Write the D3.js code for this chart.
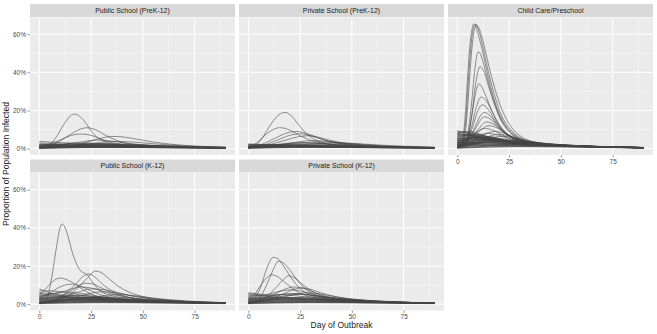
<!DOCTYPE html>
<html><head><meta charset="utf-8">
<script src="https://cdn.jsdelivr.net/npm/d3@7"></script>
<style>body{margin:0;background:#fff}svg{display:block}</style></head>
<body><svg id="c" width="657" height="334"></svg>
<script>
const facets = ["Public School (PreK-12)","Private School (PreK-12)","Child Care/Preschool","Public School (K-12)","Private School (K-12)"];
const xTicks = [0,25,50,75];
const xMinor = [12.5,37.5,62.5,87.5];
const yTicks = [0,20,40,60];
const yMinor = [10,30,50];

// each curve: [day, percent infected]
const publicPreK = [
 [[0,0.3],[3,0.8],[6,3],[9,7.5],[12,13],[15,17.2],[17,18.1],[20,16.5],[23,12.5],[26,8],[30,4.5],[35,2.5],[40,1.6],[45,1.2],[50,1],[60,0.7],[75,0.5],[90,0.3]],
 [[0,0.5],[5,1.5],[10,4],[15,7.5],[20,10.3],[23,11],[27,10],[32,7],[37,4.5],[42,2.8],[50,1.6],[60,1],[75,0.6],[90,0.4]],
 [[0,1],[5,2.5],[10,4.5],[15,6.8],[20,7.7],[25,7],[30,5],[35,3.2],[40,2.2],[50,1.3],[60,0.9],[75,0.6],[90,0.4]],
 [[0,0.5],[10,1],[20,2.5],[28,5],[35,6.4],[40,6.2],[48,4.8],[55,3.5],[65,2.2],[75,1.4],[90,0.8]],
 [[0,3.8],[10,3.2],[20,2.8],[30,2.4],[40,2],[50,1.7],[60,1.4],[75,1],[90,0.7]],
 [[0,0.8],[10,2],[20,3.5],[27,4.5],[33,4.2],[40,3.2],[50,2],[60,1.3],[75,0.8],[90,0.5]],
 [[0,0.3],[15,1],[25,2.5],[35,3.8],[45,3.5],[55,2.6],[65,1.8],[80,1],[90,0.7]],
 [[0,2],[15,2.3],[30,2],[45,1.6],[60,1.2],[75,0.9],[90,0.6]],
 [[0,1.5],[10,1.8],[25,1.9],[40,1.6],[55,1.2],[70,0.9],[90,0.5]],
 [[0,1.2],[10,1.5],[20,1.5],[35,1.3],[50,1.1],[70,0.8],[90,0.5]],
 [[0,0.8],[15,1.3],[30,1.4],[45,1.2],[60,1],[75,0.7],[90,0.4]],
 [[0,1],[10,1.1],[25,1.1],[40,1],[60,0.8],[75,0.6],[90,0.4]],
 [[0,0.5],[10,0.8],[25,1],[40,0.9],[60,0.7],[90,0.4]],
 [[0,2.5],[10,2],[20,1.5],[35,1.1],[50,0.8],[70,0.6],[90,0.4]],
 [[0,0.6],[20,1.8],[35,2.2],[50,1.8],[65,1.3],[80,0.9],[90,0.7]],
 [[0,0.4],[20,0.7],[40,0.8],[60,0.6],[90,0.3]],
 [[0,0.2],[15,0.5],[30,0.7],[50,0.6],[70,0.4],[90,0.3]],
 [[0,0.3],[10,0.5],[25,0.6],[45,0.6],[65,0.5],[90,0.3]],
 [[0,0.6],[10,0.7],[25,0.8],[45,0.7],[65,0.5],[90,0.3]],
 [[0,0.9],[10,1],[25,1.2],[40,1.1],[60,0.8],[80,0.5],[90,0.4]],
 [[0,1.3],[10,1.4],[25,1.3],[40,1.2],[60,0.9],[80,0.6],[90,0.5]],
 [[0,1.7],[12,1.7],[25,1.6],[40,1.4],[55,1.1],[75,0.7],[90,0.5]],
 [[0,2.2],[12,2],[25,1.8],[40,1.4],[55,1],[75,0.6],[90,0.4]],
 [[0,1.8],[10,2.2],[20,2.5],[30,2.5],[45,2],[60,1.4],[75,0.9],[90,0.6]],
 [[0,0.4],[10,1.2],[20,2],[30,2.6],[40,2.5],[55,1.8],[70,1.2],[90,0.6]],
 [[0,3],[10,2.6],[20,2.2],[32,1.8],[45,1.4],[60,1],[75,0.7],[90,0.5]],
 [[0,0.5],[8,1.5],[16,2.8],[24,3],[32,2.5],[42,1.8],[55,1.2],[72,0.8],[90,0.5]]
];
const privatePreK = [
 [[0,0.5],[3,1.5],[6,4.5],[9,9.5],[12,14.5],[15,18],[18,19],[21,17],[24,13],[27,9],[31,5.5],[36,3.2],[42,2],[50,1.3],[60,0.9],[75,0.6],[90,0.4]],
 [[0,0.8],[4,3],[8,7],[12,10],[15,11],[19,10.2],[23,8],[27,5.8],[32,3.8],[38,2.4],[45,1.6],[55,1.1],[70,0.7],[90,0.4]],
 [[0,0.4],[6,2],[12,5],[18,8],[23,9],[28,8],[33,6],[38,4],[45,2.5],[55,1.5],[70,0.9],[90,0.5]],
 [[0,0.3],[8,2],[14,4.5],[20,7],[25,7.8],[30,6.8],[36,4.8],[42,3.2],[50,2],[60,1.3],[75,0.8],[90,0.5]],
 [[0,0.5],[10,2],[18,4.5],[24,6.2],[29,6.8],[34,6],[40,4.3],[47,2.8],[55,1.8],[65,1.2],[80,0.7],[90,0.5]],
 [[0,0.5],[12,1.5],[22,3.2],[30,4.2],[37,4],[45,3],[55,2],[65,1.3],[80,0.8],[90,0.6]],
 [[0,1],[15,2],[28,3.3],[38,3.5],[48,2.8],[60,1.8],[75,1.1],[90,0.7]],
 [[0,0.5],[20,1.5],[35,2.8],[45,3],[55,2.5],[65,1.8],[80,1.1],[90,0.8]],
 [[0,2],[10,2],[25,1.8],[40,1.5],[55,1.1],[70,0.8],[90,0.5]],
 [[0,1.5],[15,1.7],[30,1.7],[45,1.4],[60,1.1],[75,0.8],[90,0.5]],
 [[0,1],[10,1.3],[25,1.4],[40,1.3],[55,1],[70,0.7],[90,0.4]],
 [[0,0.7],[15,1],[30,1.2],[45,1.1],[60,0.9],[75,0.6],[90,0.4]],
 [[0,1.2],[10,1],[25,0.9],[40,0.8],[60,0.6],[90,0.3]],
 [[0,0.4],[20,0.8],[35,1],[50,0.9],[70,0.6],[90,0.4]],
 [[0,2.5],[8,2.2],[20,1.6],[35,1.1],[50,0.8],[70,0.5],[90,0.3]],
 [[0,0.2],[15,0.5],[30,0.7],[50,0.6],[70,0.4],[90,0.3]],
 [[0,0.3],[10,0.6],[25,0.8],[45,0.7],[65,0.5],[90,0.3]],
 [[0,0.6],[10,0.8],[25,0.9],[45,0.8],[65,0.6],[90,0.4]],
 [[0,0.9],[10,1.1],[25,1.2],[40,1.1],[60,0.8],[80,0.5],[90,0.4]],
 [[0,1.3],[10,1.5],[25,1.5],[40,1.3],[60,1],[80,0.6],[90,0.5]],
 [[0,1.8],[12,1.8],[25,1.7],[40,1.4],[55,1.1],[75,0.7],[90,0.5]],
 [[0,2.2],[12,2.1],[25,1.9],[40,1.5],[55,1.1],[75,0.7],[90,0.4]],
 [[0,0.4],[10,1.3],[20,2.2],[30,2.6],[40,2.4],[55,1.7],[70,1.1],[90,0.6]],
 [[0,1.5],[10,2],[20,2.4],[30,2.3],[45,1.8],[60,1.3],[75,0.9],[90,0.6]],
 [[0,0.5],[10,1.5],[18,2.8],[26,3.2],[34,2.8],[44,2],[56,1.3],[72,0.8],[90,0.5]]
];
const childCare = [
 [[0,0.5],[2,2],[3,8],[4,20],[5,38],[6,53],[7,62],[8,65.4],[9,64],[10,60],[12,52],[14,42],[16,33],[18,25],[20,19],[22,14.5],[25,10],[30,5.5],[35,3.5],[40,2.6],[50,1.7],[60,1.2],[70,0.9],[80,0.6],[90,0.4]],
 [[0,0.5],[2,1.5],[3,5],[4,14],[5,30],[6,46],[7,58],[8,64],[9,65.2],[10,63],[12,55],[14,45],[16,36],[18,28],[20,21],[22,16],[25,11],[30,6],[35,3.8],[40,2.7],[50,1.7],[60,1.2],[70,0.9],[80,0.6],[90,0.4]],
 [[0,0.5],[2,1.2],[4,10],[5,22],[6,38],[7,52],[8,61],[9,64.6],[10,64],[12,58],[14,49],[16,40],[18,32],[20,25],[23,17],[26,11.5],[30,7],[35,4.2],[40,3],[50,1.8],[60,1.2],[70,0.9],[80,0.6],[90,0.4]],
 [[0,0.5],[3,2],[5,8],[7,25],[8,37],[9,46],[10,50.6],[11,50],[12,47],[14,39],[16,31],[18,24],[20,18],[23,12],[26,8],[30,5],[35,3.2],[40,2.4],[50,1.6],[60,1.1],[75,0.7],[90,0.4]],
 [[0,0.5],[3,1.5],[5,5],[7,18],[9,35],[11,43],[13,40],[15,33],[18,23],[21,15],[25,9],[30,5],[35,3.2],[40,2.4],[50,1.5],[60,1],[75,0.7],[90,0.4]],
 [[0,0.8],[3,2],[5,6],[7,17],[9,30],[10.5,34],[12,32],[14,27],[17,19],[20,12.5],[24,7.5],[28,5],[35,3],[45,2],[60,1.2],[75,0.8],[90,0.5]],
 [[0,1],[4,3],[7,12],[9,21],[11.5,27],[14,25],[17,19],[20,13],[24,8],[28,5.2],[35,3.2],[45,2],[60,1.2],[75,0.8],[90,0.5]],
 [[0,1.5],[4,3],[7,10],[10,20],[12,23],[15,20.5],[18,15],[22,9.5],[26,6],[32,3.8],[40,2.6],[50,1.8],[65,1.1],[90,0.5]],
 [[0,1],[4,3],[8,10],[11,17],[13,19],[16,17],[19,13],[23,8.5],[28,5],[35,3.2],[45,2.2],[60,1.3],[90,0.6]],
 [[0,2],[5,4],[9,11],[13,16.7],[16,15.5],[20,11],[25,6.5],[30,4.2],[40,2.5],[55,1.5],[70,1],[90,0.6]],
 [[0,1.5],[5,3.5],[10,10],[14,14],[18,12.5],[22,9],[27,5.5],[33,3.5],[45,2.2],[60,1.3],[90,0.6]],
 [[0,3],[6,5],[11,9.5],[15,12],[19,11],[24,7.5],[30,4.5],[38,3],[50,2],[65,1.2],[90,0.6]],
 [[0,2.5],[5,4.5],[9,8.5],[13,10.6],[17,9.8],[22,7],[28,4.3],[35,3],[50,1.8],[70,1],[90,0.5]],
 [[0,1],[6,3],[12,7],[18,9],[23,8],[28,5.5],[35,3.5],[45,2.3],[60,1.4],[90,0.6]],
 [[0,4],[5,5],[10,7],[15,8],[20,7],[26,5],[33,3.2],[45,2],[60,1.3],[90,0.6]],
 [[0,2],[8,3.5],[14,6],[20,7.5],[26,6.5],[32,4.5],[40,3],[55,1.8],[70,1.1],[90,0.6]],
 [[0,1.5],[10,3.5],[16,5.5],[22,6.5],[28,5.5],[35,3.8],[45,2.5],[60,1.5],[90,0.7]],
 [[0,9.5],[5,8],[10,6.5],[15,5],[20,4],[30,2.8],[40,2],[55,1.4],[70,1],[90,0.6]],
 [[0,8.5],[5,8.5],[10,7.5],[15,6],[20,4.5],[30,3],[40,2.2],[55,1.5],[70,1],[90,0.6]],
 [[0,7.5],[5,7],[10,6],[15,5],[20,4],[30,2.8],[45,1.8],[60,1.2],[90,0.6]],
 [[0,6.5],[6,6.8],[12,6],[18,4.8],[25,3.5],[35,2.5],[50,1.6],[70,1],[90,0.6]],
 [[0,5.5],[5,5.5],[10,5],[18,4],[25,3.2],[35,2.4],[50,1.6],[70,1],[90,0.5]],
 [[0,5],[8,5.2],[15,4.6],[22,3.8],[30,3],[40,2.2],[55,1.5],[75,0.9],[90,0.6]],
 [[0,4.5],[6,4.2],[12,3.8],[20,3.2],[30,2.5],[45,1.8],[60,1.2],[75,0.8],[90,0.5]],
 [[0,4],[10,4.5],[20,3.8],[30,2.8],[40,2.1],[55,1.4],[75,0.8],[90,0.5]],
 [[0,3.5],[8,3.3],[16,3],[25,2.6],[35,2.1],[50,1.5],[70,0.9],[90,0.5]],
 [[0,3],[10,3.2],[20,3],[30,2.5],[45,1.8],[60,1.2],[80,0.7],[90,0.5]],
 [[0,2.5],[10,2.6],[20,2.4],[30,2.1],[45,1.6],[60,1.1],[80,0.7],[90,0.5]],
 [[0,2],[10,2.2],[20,2.1],[35,1.7],[50,1.3],[70,0.9],[90,0.5]],
 [[0,1.5],[10,1.8],[25,1.8],[40,1.5],[55,1.1],[70,0.8],[90,0.5]],
 [[0,1],[10,1.4],[25,1.5],[40,1.3],[60,0.9],[90,0.4]],
 [[0,0.6],[15,1],[30,1.1],[50,0.9],[70,0.6],[90,0.4]],
 [[0,6],[4,7],[8,7.5],[12,7],[17,5.8],[23,4.2],[30,3],[40,2.2],[55,1.5],[75,0.9],[90,0.6]],
 [[0,8],[3,8.8],[6,9],[10,8],[14,6.5],[19,5],[26,3.5],[35,2.5],[50,1.6],[70,1],[90,0.6]],
 [[0,3],[4,4.5],[8,6],[12,6.5],[17,6],[23,4.5],[30,3.2],[40,2.3],[55,1.5],[75,0.9],[90,0.5]],
 [[0,4.5],[5,5.5],[10,6],[16,5.5],[22,4.3],[30,3],[42,2],[60,1.2],[90,0.6]],
 [[0,9],[4,8.5],[8,7.5],[14,5.8],[20,4.3],[28,3],[38,2.2],[52,1.5],[70,0.9],[90,0.5]],
 [[0,8],[5,7.2],[10,6.3],[16,5],[22,4],[30,3],[42,2],[58,1.3],[75,0.8],[90,0.5]],
 [[0,7],[5,7.5],[10,7],[15,6],[21,4.6],[28,3.4],[38,2.4],[52,1.6],[70,1],[90,0.5]],
 [[0,6],[5,6],[10,5.5],[16,4.6],[23,3.6],[32,2.7],[45,1.9],[62,1.2],[80,0.7],[90,0.5]],
 [[0,5],[5,5.8],[10,6],[15,5.3],[21,4.3],[29,3.2],[40,2.3],[55,1.5],[75,0.9],[90,0.5]],
 [[0,4],[5,4.8],[11,5.2],[17,4.8],[24,3.9],[32,3],[44,2.1],[60,1.3],[80,0.7],[90,0.5]],
 [[0,3.5],[6,4],[12,4.3],[19,4],[26,3.4],[35,2.6],[48,1.8],[65,1.1],[90,0.5]],
 [[0,3],[6,3.8],[12,4.5],[18,4.6],[25,4],[33,3],[45,2],[60,1.3],[80,0.7],[90,0.5]],
 [[0,2.5],[7,3.2],[14,3.8],[21,3.8],[28,3.3],[38,2.5],[50,1.7],[65,1.1],[90,0.5]],
 [[0,2],[8,2.8],[15,3.4],[22,3.5],[30,3],[40,2.3],[55,1.5],[72,0.9],[90,0.5]],
 [[0,1.5],[8,2.5],[16,3.5],[24,3.8],[32,3.3],[42,2.5],[55,1.7],[70,1.1],[90,0.6]],
 [[0,1],[10,2.5],[18,4],[25,4.3],[32,3.8],[42,2.8],[55,1.8],[72,1.1],[90,0.6]],
 [[0,0.8],[6,2],[12,3.5],[18,4.5],[24,4.4],[32,3.5],[42,2.5],[55,1.6],[72,1],[90,0.5]],
 [[0,0.5],[5,1.5],[10,3.5],[15,5],[20,5.3],[26,4.6],[34,3.4],[45,2.2],[60,1.4],[80,0.8],[90,0.5]],
 [[0,0.5],[4,2],[8,4.5],[12,6],[16,6.2],[21,5.2],[28,3.7],[38,2.4],[50,1.6],[70,0.9],[90,0.5]],
 [[0,0.3],[10,1],[20,2],[30,2.4],[40,2.2],[55,1.6],[70,1.1],[90,0.6]],
 [[0,0.3],[15,0.8],[30,1.2],[45,1.2],[60,1],[75,0.7],[90,0.5]],
 [[0,1.2],[10,1.6],[20,1.8],[30,1.8],[45,1.5],[60,1.1],[75,0.8],[90,0.5]],
 [[0,2.2],[10,2.4],[20,2.5],[30,2.3],[42,1.9],[55,1.4],[72,0.9],[90,0.5]],
 [[0,3.2],[8,3.2],[16,3.1],[25,2.8],[35,2.3],[48,1.7],[62,1.2],[78,0.8],[90,0.6]],
 [[0,4.2],[6,4.8],[12,5],[19,4.4],[26,3.6],[36,2.7],[50,1.8],[68,1.1],[90,0.6]],
 [[0,5.2],[4,5.4],[9,5.2],[15,4.5],[22,3.5],[30,2.7],[42,2],[58,1.3],[75,0.8],[90,0.5]],
 [[0,6.8],[4,6.6],[9,6],[15,5],[21,4],[30,2.9],[42,2.1],[58,1.3],[78,0.8],[90,0.5]],
 [[0,7.8],[4,7.4],[8,6.6],[14,5.4],[20,4.2],[28,3.1],[38,2.3],[52,1.5],[70,0.9],[90,0.5]]
];
const publicK12 = [
 [[0,0.5],[2,1],[4,4],[6,14],[8,28],[10,40],[11,42],[12,41],[14,35],[16,27],[18,21],[20,17.5],[23,15.5],[26,11],[30,6.5],[35,4.5],[40,3.2],[50,2],[60,1.3],[75,0.8],[90,0.5]],
 [[0,1],[8,2],[14,4.5],[19,9],[23,13.5],[27,17.3],[30,16.5],[34,13],[38,9.5],[43,6.5],[50,4],[60,2.3],[75,1.2],[90,0.7]],
 [[0,0.8],[8,2.5],[13,6],[18,11],[21,14.5],[24,15.8],[27,14],[31,10],[36,6.5],[42,4],[50,2.5],[60,1.5],[75,0.9],[90,0.5]],
 [[0,5],[3,8],[6,11.5],[10,13.7],[14,12.5],[18,10],[22,7],[27,4.5],[33,3],[42,2],[55,1.3],[75,0.8],[90,0.5]],
 [[0,3],[4,5],[9,8.5],[13,10.2],[16,10.5],[20,9.5],[25,7],[30,4.8],[37,3],[45,2],[60,1.2],[90,0.5]],
 [[0,8],[5,6],[10,4.5],[15,3.5],[20,3],[30,2.3],[45,1.6],[60,1.1],[75,0.7],[90,0.5]],
 [[0,0.5],[8,2.5],[14,6],[18,9],[22,11],[26,10.5],[30,8.5],[35,6],[42,3.8],[50,2.5],[65,1.3],[90,0.6]],
 [[0,6],[4,5],[8,5.5],[14,7.5],[20,9],[25,8.5],[30,7],[36,5],[43,3.5],[52,2.3],[65,1.4],[90,0.6]],
 [[0,1],[10,3],[18,6],[25,8],[32,7.5],[38,6],[45,4.3],[55,2.8],[65,1.8],[80,1],[90,0.7]],
 [[0,7],[5,7],[10,6.5],[16,5.5],[22,4.5],[30,3.5],[40,2.5],[55,1.6],[70,1],[90,0.6]],
 [[0,4],[6,5.5],[12,6.5],[18,6],[24,5],[32,3.5],[42,2.4],[55,1.6],[70,1],[90,0.6]],
 [[0,0.5],[12,2],[22,5],[30,6.5],[37,6],[44,4.5],[52,3],[62,2],[75,1.2],[90,0.7]],
 [[0,1],[15,2],[28,4],[38,5],[46,4.5],[55,3.2],[65,2.2],[78,1.3],[90,0.8]],
 [[0,4],[10,3.5],[20,3],[30,2.6],[45,2],[60,1.4],[75,0.9],[90,0.6]],
 [[0,3],[10,3],[20,2.8],[35,2.3],[50,1.7],[65,1.2],[80,0.8],[90,0.6]],
 [[0,2.5],[10,2.5],[25,2.3],[40,1.9],[55,1.4],[70,1],[90,0.6]],
 [[0,2],[15,2.1],[30,2],[45,1.6],[60,1.2],[75,0.8],[90,0.5]],
 [[0,1.5],[15,1.8],[30,1.8],[45,1.5],[60,1.1],[75,0.8],[90,0.5]],
 [[0,1],[15,1.3],[30,1.5],[45,1.3],[60,1],[75,0.7],[90,0.4]],
 [[0,3.5],[8,3.8],[16,3.6],[25,3.2],[35,2.6],[48,1.9],[62,1.3],[78,0.8],[90,0.6]],
 [[0,0.6],[15,1],[30,1.2],[50,1],[70,0.7],[90,0.4]],
 [[0,5],[8,4.5],[15,4],[22,3.5],[32,2.8],[45,2],[60,1.3],[75,0.9],[90,0.6]],
 [[0,0.3],[15,0.6],[30,0.8],[50,0.7],[70,0.5],[90,0.3]],
 [[0,0.5],[10,0.8],[25,1],[45,0.9],[65,0.6],[90,0.4]],
 [[0,0.8],[10,1],[25,1.2],[45,1.1],[65,0.8],[90,0.5]],
 [[0,1.2],[10,1.5],[25,1.6],[40,1.4],[60,1],[80,0.6],[90,0.5]],
 [[0,1.8],[12,1.9],[25,1.9],[40,1.7],[55,1.3],[75,0.8],[90,0.6]],
 [[0,2.2],[12,2.4],[25,2.4],[40,2],[55,1.5],[75,0.9],[90,0.6]],
 [[0,2.8],[12,2.7],[25,2.5],[40,2.1],[55,1.6],[75,1],[90,0.7]],
 [[0,3.2],[10,3.4],[20,3.3],[32,2.8],[45,2.2],[60,1.5],[78,0.9],[90,0.7]],
 [[0,4.5],[8,4.2],[16,3.8],[26,3.2],[38,2.5],[52,1.8],[68,1.2],[90,0.6]],
 [[0,1],[10,2.2],[20,3.2],[30,3.5],[42,2.8],[55,2],[70,1.3],[90,0.7]],
 [[0,0.5],[12,1.8],[24,3.4],[34,3.8],[45,3.1],[58,2.1],[72,1.4],[90,0.8]],
 [[0,6],[6,5.5],[12,5],[20,4.2],[30,3.2],[42,2.3],[56,1.6],[72,1],[90,0.6]],
 [[0,2.5],[6,3.5],[12,4.5],[20,4.6],[28,3.8],[38,2.8],[50,2],[65,1.3],[90,0.6]]
];
const privateK12 = [
 [[0,1],[3,3],[6,9],[9,19],[12,24.5],[14,24],[17,20],[20,15],[23,10.5],[27,6.5],[32,4],[38,2.7],[45,1.9],[55,1.3],[70,0.8],[90,0.4]],
 [[0,0.5],[4,2],[7,6],[10,13],[12,18],[14.5,22.5],[17,21.5],[20,18],[23,13.5],[27,8.5],[31,5.5],[37,3.3],[45,2.1],[55,1.4],[70,0.8],[90,0.4]],
 [[0,2],[3,5],[6,10],[9,14],[11,15.4],[14,14.5],[17,12],[21,8.5],[25,5.8],[30,3.8],[37,2.5],[47,1.7],[60,1.1],[75,0.7],[90,0.4]],
 [[0,0.5],[6,2],[10,5],[14,9.5],[17,13],[19.5,14.9],[22,14],[25,11.5],[29,8],[33,5.5],[38,3.6],[45,2.4],[55,1.5],[70,0.9],[90,0.5]],
 [[0,1],[8,3],[14,6],[18,8],[22,9],[26,8.5],[30,7],[35,5],[42,3.2],[52,2],[65,1.2],[90,0.5]],
 [[0,0.5],[10,2.5],[17,5.5],[22,7.8],[26,8.5],[30,7.8],[35,6],[42,4],[50,2.6],[62,1.5],[75,1],[90,0.5]],
 [[0,6],[4,5.5],[8,5],[14,6.5],[20,7.5],[25,7],[30,5.5],[37,3.8],[45,2.6],[55,1.7],[70,1],[90,0.5]],
 [[0,5.5],[5,5],[10,4.5],[16,5],[22,5.5],[28,5],[35,3.8],[43,2.6],[55,1.7],[70,1],[90,0.5]],
 [[0,1],[12,2.5],[20,4.5],[28,6],[34,5.5],[40,4.3],[48,3],[58,2],[70,1.2],[90,0.6]],
 [[0,4.5],[6,4],[12,3.5],[20,3.2],[30,2.7],[42,2],[55,1.4],[70,0.9],[90,0.5]],
 [[0,3.5],[10,3.6],[20,3.4],[30,3],[40,2.4],[52,1.7],[65,1.2],[80,0.8],[90,0.6]],
 [[0,3],[10,3],[22,2.8],[35,2.3],[50,1.7],[65,1.1],[80,0.7],[90,0.5]],
 [[0,2.5],[12,2.6],[25,2.4],[38,2],[52,1.5],[68,1],[90,0.5]],
 [[0,2],[15,2.2],[30,2.1],[45,1.7],[60,1.3],[75,0.9],[90,0.6]],
 [[0,1.5],[15,1.7],[30,1.7],[45,1.5],[60,1.1],[75,0.8],[90,0.5]],
 [[0,1],[15,1.2],[30,1.3],[45,1.2],[60,0.9],[75,0.7],[90,0.4]],
 [[0,0.5],[20,1],[40,1],[60,0.8],[90,0.4]],
 [[0,4],[8,4.8],[15,5],[22,4.5],[30,3.6],[40,2.6],[52,1.8],[68,1.1],[90,0.5]],
 [[0,0.3],[15,0.6],[30,0.8],[50,0.7],[70,0.5],[90,0.3]],
 [[0,0.5],[10,0.8],[25,1],[45,0.9],[65,0.6],[90,0.4]],
 [[0,0.8],[10,1.1],[25,1.2],[45,1.1],[65,0.8],[90,0.5]],
 [[0,1.2],[10,1.5],[25,1.6],[40,1.4],[60,1],[80,0.6],[90,0.5]],
 [[0,1.8],[12,1.9],[25,1.9],[40,1.7],[55,1.3],[75,0.8],[90,0.6]],
 [[0,2.2],[12,2.4],[25,2.4],[40,2],[55,1.5],[75,0.9],[90,0.6]],
 [[0,2.8],[12,2.8],[25,2.6],[40,2.1],[55,1.6],[75,1],[90,0.6]],
 [[0,3.2],[10,3.3],[22,3.4],[34,2.9],[46,2.2],[60,1.5],[78,0.9],[90,0.6]],
 [[0,1],[10,2],[20,3.2],[30,3.8],[40,3.3],[52,2.3],[66,1.5],[90,0.6]],
 [[0,0.5],[10,2.5],[18,4.5],[25,5.2],[32,4.6],[42,3.2],[55,2],[70,1.2],[90,0.6]],
 [[0,2],[8,3.5],[15,5],[22,5.5],[30,4.8],[40,3.3],[52,2.2],[68,1.3],[90,0.6]],
 [[0,5],[6,4.5],[12,4],[20,3.5],[30,2.8],[42,2.1],[56,1.4],[72,0.9],[90,0.5]]
];
const series = [publicPreK, privatePreK, childCare, publicK12, privateK12];

const svg = d3.select("#c");
const font = "Liberation Sans, Arial, sans-serif";
const panelW = 205, panelH = 137.5, stripH = 13;
const colX = [30, 239, 448];
const rowTop = [17.5, 173];

const x = d3.scaleLinear().domain([-4.5, 94.5]).range([0, panelW]);
const y = d3.scaleLinear().domain([-3.3, 68.7]).range([panelH, 0]);
const line = d3.line().x(d => x(d[0])).y(d => y(d[1])).curve(d3.curveMonotoneX);

facets.forEach((name, i) => {
  const col = i % 3, row = Math.floor(i / 3);
  const g = svg.append("g").attr("transform", `translate(${colX[col]},${rowTop[row]})`);
  g.append("rect").attr("x", 0).attr("y", -stripH - 0.5).attr("width", panelW).attr("height", stripH).attr("fill", "#D9D9D9");
  g.append("text").attr("x", panelW / 2).attr("y", -stripH/2 - 0.5).attr("dy", "0.35em")
    .attr("text-anchor", "middle").attr("font-family", font).attr("font-size", 7).attr("fill", "#1A1A1A").text(name);
  g.append("rect").attr("width", panelW).attr("height", panelH).attr("fill", "#EBEBEB");
  const grid = g.append("g");
  yMinor.forEach(v => grid.append("line").attr("x1", 0).attr("x2", panelW).attr("y1", y(v)).attr("y2", y(v)).attr("stroke", "#fff").attr("stroke-width", 0.5).attr("opacity", 0.8));
  xMinor.forEach(v => grid.append("line").attr("y1", 0).attr("y2", panelH).attr("x1", x(v)).attr("x2", x(v)).attr("stroke", "#fff").attr("stroke-width", 0.5).attr("opacity", 0.8));
  yTicks.forEach(v => grid.append("line").attr("x1", 0).attr("x2", panelW).attr("y1", y(v)).attr("y2", y(v)).attr("stroke", "#fff").attr("stroke-width", 1));
  xTicks.forEach(v => grid.append("line").attr("y1", 0).attr("y2", panelH).attr("x1", x(v)).attr("x2", x(v)).attr("stroke", "#fff").attr("stroke-width", 1));
  g.append("g").selectAll("path").data(series[i]).join("path")
    .attr("d", line).attr("fill", "none").attr("stroke", "#444").attr("stroke-width", 0.65).attr("stroke-opacity", 0.9);
  if (col === 0) {
    const ya = g.append("g").call(d3.axisLeft(y).tickValues(yTicks).tickFormat(d => d + "%").tickSize(2.5).tickPadding(1.5));
    ya.select(".domain").remove();
    ya.selectAll("line").attr("stroke", "#333").attr("stroke-width", 0.5);
    ya.selectAll("text").attr("font-family", font).attr("font-size", 6.5).attr("fill", "#4D4D4D");
  }
  if (row === 1 || col === 2) {
    const xa = g.append("g").attr("transform", `translate(0,${panelH})`)
      .call(d3.axisBottom(x).tickValues(xTicks).tickSize(2.5).tickPadding(1.5));
    xa.select(".domain").remove();
    xa.selectAll("line").attr("stroke", "#333").attr("stroke-width", 0.5);
    xa.selectAll("text").attr("font-family", font).attr("font-size", 6.5).attr("fill", "#4D4D4D");
  }
});

svg.append("text").attr("x", (colX[0] + colX[2] + panelW) / 2).attr("y", 328)
  .attr("text-anchor", "middle").attr("font-family", font).attr("font-size", 8.5).attr("fill", "#1A1A1A").text("Day of Outbreak");
svg.append("text").attr("transform", `translate(9,${(rowTop[0] + rowTop[1] + panelH) / 2}) rotate(-90)`)
  .attr("text-anchor", "middle").attr("font-family", font).attr("font-size", 8.5).attr("fill", "#1A1A1A").text("Proportion of Population Infected");
</script></body></html>
